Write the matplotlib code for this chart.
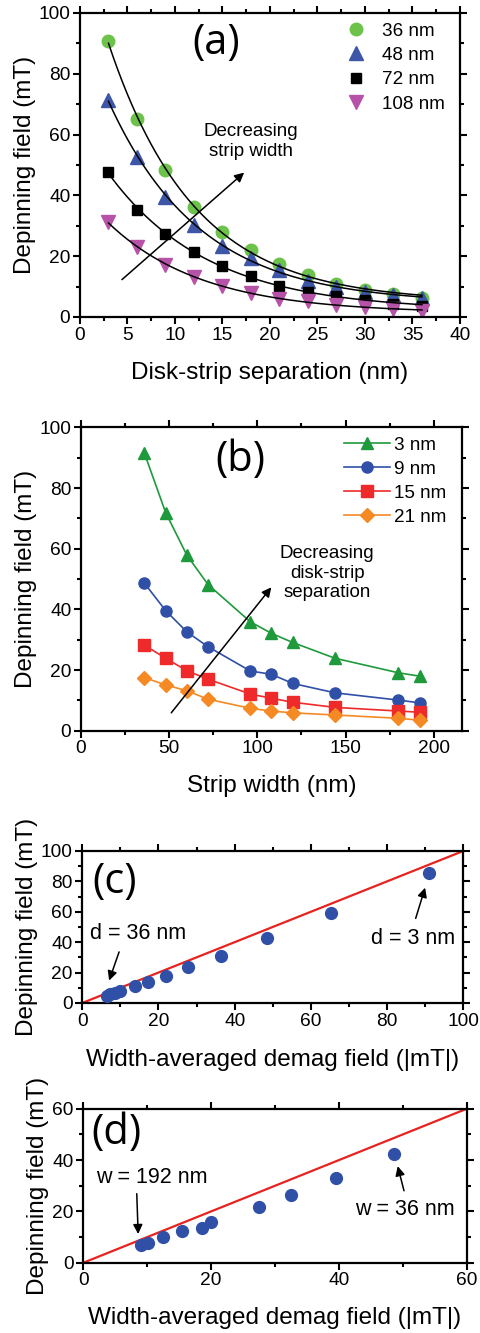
import numpy as np
import matplotlib
matplotlib.use("Agg")
import matplotlib.pyplot as plt
from matplotlib.ticker import MultipleLocator

plt.rcParams['font.family'] = ['Liberation Sans', 'DejaVu Sans']
plt.rcParams['axes.linewidth'] = 1.6

# ---- (a) depinning field vs disk-strip separation ----
sep_nm = [3, 6, 9, 12, 15, 18, 21, 24, 27, 30, 33, 36]
hd_w36 = [90.7, 65.2, 48.2, 36.2, 28.0, 21.9, 17.4, 13.9, 11.0, 9.0, 7.7, 6.3]
hd_w48 = [71.5, 52.6, 39.5, 30.4, 23.5, 19.4, 15.4, 12.0, 9.9, 8.1, 7.3, 6.2]
hd_w72 = [47.7, 35.3, 27.3, 21.3, 16.7, 13.4, 10.3, 8.2, 7.0, 5.7, 4.4, 3.7]
hd_w108 = [31.1, 23.0, 17.2, 13.2, 10.3, 7.9, 6.0, 5.2, 4.0, 3.3, 2.6, 1.9]
labels_a = ["36 nm", "48 nm", "72 nm", "108 nm"]

# ---- (b) depinning field vs strip width ----
width_nm = [36, 48, 60, 72, 96, 108, 120, 144, 180, 192]
hd_d3 = [91.4, 71.9, 57.9, 48.2, 35.9, 32.1, 29.1, 23.9, 19.1, 18.0]
hd_d9 = [48.6, 39.6, 32.6, 27.7, 19.7, 18.6, 15.6, 12.5, 10.1, 9.2]
hd_d15 = [28.2, 23.9, 19.8, 17.0, 12.1, 10.7, 9.4, 7.7, 6.5, 6.1]
hd_d21 = [17.5, 15.1, 13.2, 10.4, 7.4, 6.5, 5.9, 5.2, 4.1, 3.5]
labels_b = ["3 nm", "9 nm", "15 nm", "21 nm"]

# ---- (c) depinning field vs averaged demag field (varying d) ----
demag_c = [91.0, 65.4, 48.4, 36.4, 27.8, 22.0, 17.3, 13.8, 10.0, 8.6, 7.4, 6.4]
hd_c = [85.7, 59.4, 42.5, 31.1, 23.5, 17.8, 14.0, 10.9, 7.8, 6.8, 5.7, 4.8]

# ---- (d) depinning field vs averaged demag field (varying w) ----
demag_d = [48.6, 39.5, 32.5, 27.5, 20.0, 18.5, 15.5, 12.5, 10.2, 9.0]
hd_d = [42.2, 33.1, 26.4, 21.6, 15.7, 13.6, 12.3, 10.1, 7.8, 7.1]

LABEL_FS = 17.5
TICK_FS = 13.8
PANEL_FONT = ['Open Sans', 'DejaVu Sans']


def exp_fit(x, y):
    """Least-squares fit of y = A*exp(-x/t) + y0, scanning t."""
    x = np.asarray(x, float)
    y = np.asarray(y, float)
    best = None
    for t in np.linspace(2, 60, 600):
        M = np.column_stack([np.exp(-x / t), np.ones_like(x)])
        coef, *_ = np.linalg.lstsq(M, y, rcond=None)
        err = np.sum((M @ coef - y) ** 2)
        if best is None or err < best[0]:
            best = (err, t, coef)
    _, t, (A, y0) = best
    return lambda xx: A * np.exp(-xx / t) + y0


def style_axes(ax, xmaj, xmin, ymaj, ymin):
    ax.xaxis.set_major_locator(MultipleLocator(xmaj))
    ax.xaxis.set_minor_locator(MultipleLocator(xmin))
    ax.yaxis.set_major_locator(MultipleLocator(ymaj))
    ax.yaxis.set_minor_locator(MultipleLocator(ymin))
    ax.tick_params(which='both', direction='out', top=True, right=True,
                   labeltop=False, labelright=False, labelsize=TICK_FS,
                   width=1.5)
    ax.tick_params(which='major', length=5, pad=2)
    ax.tick_params(which='minor', length=3)


def arrow(ax, start, end):
    ax.annotate("", xy=end, xytext=start,
                arrowprops=dict(arrowstyle='-|>', color='black', lw=1.1,
                                mutation_scale=14))


fig = plt.figure(figsize=(4.81, 13.33), dpi=100)

# Panel (a)
ax = fig.add_axes([0.1663, 0.7622, 0.790, 0.2281])
series_a = [hd_w36, hd_w48, hd_w72, hd_w108]
marks_a = ['o', '^', 's', 'v']
sizes_a = [9, 9.5, 7.5, 9.5]
colors_a = ['#6cc24a', '#3d56a8', '#000000', '#b653a8']
xs = np.linspace(min(sep_nm), max(sep_nm), 200)
for yv in series_a:
    ax.plot(xs, exp_fit(sep_nm, yv)(xs), color='black', lw=1.1, zorder=3)
for yv, m, s, c, lab in zip(series_a, marks_a, sizes_a, colors_a, labels_a):
    ax.plot(sep_nm, yv, ls='none', marker=m, ms=s, color=c, mec=c,
            label=lab, zorder=2)
ax.set_xlim(0, 40)
ax.set_ylim(0, 100)
style_axes(ax, 5, 2.5, 20, 10)
ax.set_xlabel("Disk-strip separation (nm)", fontsize=LABEL_FS, labelpad=13)
ax.set_ylabel("Depinning field (mT)", fontsize=LABEL_FS, labelpad=2)
ax.text(14.3, 90, "(a)", fontsize=30, ha='center', va='center',
        family=PANEL_FONT)
arrow(ax, (4.2, 11.7), (17.5, 48.1))
ax.text(18.0, 57.8, "Decreasing\nstrip width", fontsize=13.5,
        ha='center', va='center', linespacing=1.2)
ax.legend(loc='upper right', frameon=False, fontsize=13.6, handlelength=1.0,
          handletextpad=0.85, labelspacing=0.38, borderaxespad=0.2,
          borderpad=0.3, bbox_to_anchor=(0.985, 1.0))

# Panel (b)
ax = fig.add_axes([0.1684, 0.4518, 0.792, 0.2276])
series_b = [hd_d3, hd_d9, hd_d15, hd_d21]
marks_b = ['^', 'o', 's', 'D']
sizes_b = [8.5, 8, 8, 7]
colors_b = ['#1e9a3c', '#3050a8', '#ee2a2a', '#f58a25']
for yv, m, s, c, lab in zip(series_b, marks_b, sizes_b, colors_b, labels_b):
    ax.plot(width_nm, yv, marker=m, ms=s, color=c, mec=c, lw=1.2, label=lab)
ax.set_xlim(0, 216)
ax.set_ylim(0, 100)
style_axes(ax, 50, 25, 20, 10)
ax.set_xlabel("Strip width (nm)", fontsize=LABEL_FS, labelpad=12.5)
ax.set_ylabel("Depinning field (mT)", fontsize=LABEL_FS, labelpad=2)
ax.text(90.3, 89.2, "(b)", fontsize=30, ha='center', va='center',
        family=PANEL_FONT)
arrow(ax, (50.2, 5.2), (108.9, 48.0))
ax.text(139.6, 51.9, "Decreasing\ndisk-strip\nseparation", fontsize=13.5,
        ha='center', va='center', linespacing=1.2)
ax.legend(loc='upper right', frameon=False, fontsize=13.6, handlelength=2.4,
          handletextpad=0.25, labelspacing=0.36, borderaxespad=0.2,
          borderpad=0.3, bbox_to_anchor=(0.985, 1.0))

# Panel (c)
ax = fig.add_axes([0.1711, 0.2476, 0.792, 0.1140])
ax.plot([0, 100], [0, 100], color='#e8231f', lw=1.6, zorder=2)
ax.plot(demag_c, hd_c, ls='none', marker='o', ms=8.5, color='#3050a8',
        zorder=3)
ax.set_xlim(0, 100)
ax.set_ylim(0, 100)
style_axes(ax, 20, 10, 20, 10)
ax.set_xlabel("Width-averaged demag field (|mT|)", fontsize=LABEL_FS,
              labelpad=14)
ax.set_ylabel("Depinning field (mT)", fontsize=LABEL_FS, labelpad=2)
ax.text(8.6, 79.8, "(c)", fontsize=30, ha='center', va='center',
        family=PANEL_FONT)
arrow(ax, (9.9, 35.3), (6.8, 13.0))
ax.text(14.7, 45.8, "d = 36 nm", fontsize=15.5, ha='center', va='center')
arrow(ax, (87.3, 53.9), (90.2, 77.6))
ax.text(86.9, 42.6, "d = 3 nm", fontsize=15.5, ha='center', va='center')

# Panel (d)
ax = fig.add_axes([0.1732, 0.0527, 0.797, 0.1155])
ax.plot([0, 60], [0, 60], color='#e8231f', lw=1.6, zorder=2)
ax.plot(demag_d, hd_d, ls='none', marker='o', ms=8.5, color='#3050a8',
        zorder=3)
ax.set_xlim(0, 60)
ax.set_ylim(0, 60)
style_axes(ax, 20, 10, 20, 10)
ax.set_xlabel("Width-averaged demag field (|mT|)", fontsize=LABEL_FS,
              labelpad=12.5)
ax.set_ylabel("Depinning field (mT)", fontsize=LABEL_FS, labelpad=2)
ax.text(5.2, 50.4, "(d)", fontsize=30, ha='center', va='center',
        family=PANEL_FONT)
arrow(ax, (8.35, 28.0), (8.6, 10.1))
ax.text(10.7, 33.1, "w = 192 nm", fontsize=15.5, ha='center', va='center')
arrow(ax, (50.3, 27.0), (49.1, 38.7))
ax.text(50.3, 20.8, "w = 36 nm", fontsize=15.5, ha='center', va='center')

fig.savefig("out.png", dpi=100)
